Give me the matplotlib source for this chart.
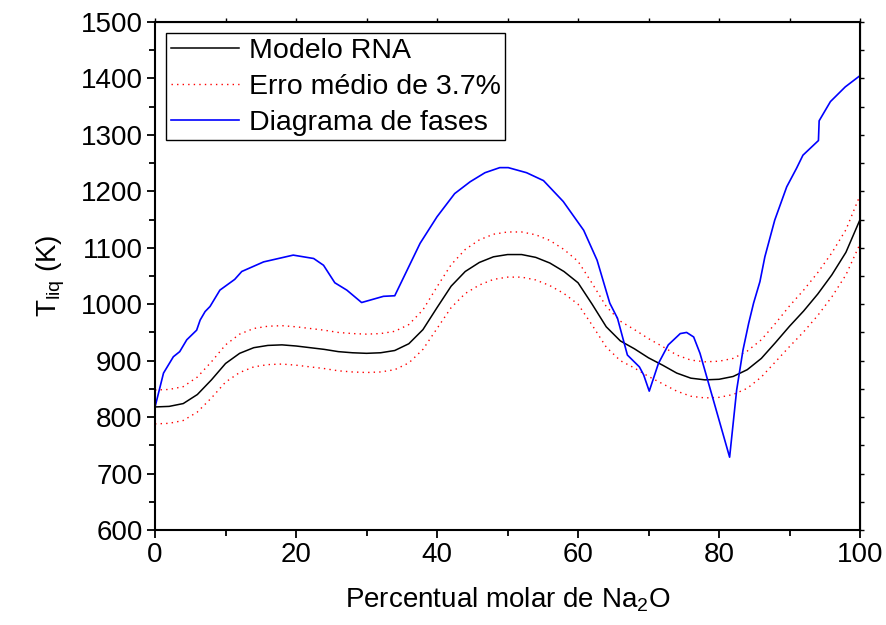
import numpy as np
import matplotlib
matplotlib.use("Agg")
from matplotlib import pyplot as plt
from matplotlib.ticker import MultipleLocator

plt.rcParams['font.family'] = ['Liberation Sans', 'DejaVu Sans']
plt.rcParams['mathtext.fontset'] = 'custom'
plt.rcParams['mathtext.rm'] = 'Liberation Sans'
plt.rcParams['mathtext.it'] = 'Liberation Sans:italic'

# Modelo RNA (linha preta) e banda de erro medio de 3.7% (pontilhado vermelho)
x_rna = [0, 2, 4, 6, 8, 10, 12, 14, 16, 18, 20, 22, 24, 26, 28, 30, 32, 34, 36, 38,
         40, 42, 44, 46, 48, 50, 52, 54, 56, 58, 60, 62, 64, 66, 68, 70, 72, 74, 76, 78,
         80, 82, 84, 86, 88, 90, 92, 94, 96, 98, 100]
t_rna = [818, 819, 824, 840, 866, 895, 913, 923, 927, 928, 926, 923, 920, 916, 914, 913, 914, 918, 930, 955,
         994, 1032, 1058, 1074, 1084, 1088, 1088, 1083, 1073, 1058, 1038, 1000, 960, 935, 921, 905, 892, 878, 869, 866,
         867, 872, 884, 904, 932, 961, 988, 1018, 1052, 1092, 1150]
t_sup = [848, 849, 854, 871, 898, 928, 947, 957, 961, 962, 960, 957, 954, 950, 948, 947, 948, 952, 964, 990,
         1031, 1070, 1097, 1114, 1124, 1128, 1128, 1123, 1113, 1097, 1076, 1037, 996, 970, 955, 939, 925, 910, 901, 898,
         899, 904, 917, 937, 966, 997, 1025, 1056, 1091, 1132, 1193]
t_inf = [788, 789, 794, 809, 834, 862, 879, 889, 893, 894, 892, 889, 886, 882, 880, 879, 880, 884, 896, 920,
         957, 994, 1019, 1034, 1044, 1048, 1048, 1043, 1033, 1019, 1000, 963, 924, 900, 887, 872, 859, 846, 837, 834,
         835, 840, 851, 871, 898, 925, 951, 980, 1013, 1052, 1107]

# Diagrama de fases (linha azul)
x_fases = [0, 1.2, 2.6, 3.5, 4.5, 5.9, 6.4, 7.1, 7.8, 9.2, 11.3, 12.3, 15.4, 19.6, 22.5, 23.9, 25.5, 27.2,
           29.3, 32.4, 34.0, 37.6, 40.0, 42.5, 44.7, 46.8, 48.9, 50.1, 52.7, 55.1, 57.9, 60.8, 62.7, 64.5,
           65.6, 67.0, 68.7, 69.3, 70.1, 71.4, 72.8, 74.5, 75.4, 76.4, 77.3, 79.2, 81.5, 82.5, 83.4, 84.2,
           84.9, 85.8, 86.5, 87.9, 89.6, 91.0, 91.9, 94.1, 94.2, 95.8, 97.9, 100]
t_fases = [818, 878, 907, 916, 937, 954, 972, 987, 996, 1025, 1044, 1058, 1075, 1087, 1081, 1069, 1038, 1025,
           1003, 1014, 1015, 1108, 1155, 1196, 1217, 1233, 1242, 1242, 1233, 1219, 1182, 1131, 1078, 1002,
           975, 910, 889, 875, 846, 895, 928, 948, 950, 942, 913, 830, 729, 848, 919, 966,
           1002, 1040, 1084, 1149, 1208, 1241, 1264, 1290, 1325, 1359, 1385, 1405]

fig = plt.figure(figsize=(8.87, 6.25), dpi=100)
ax = fig.add_axes([0.1748, 0.152, 0.7948, 0.8128])

ax.plot(x_rna, t_rna, color='black', lw=1.1, label='Modelo RNA')
ax.plot(x_rna, t_sup, color='red', lw=1.0, linestyle=(0, (1, 3)), label='Erro médio de 3.7%')
ax.plot(x_rna, t_inf, color='red', lw=1.0, linestyle=(0, (1, 3)))
ax.plot(x_fases, t_fases, color='blue', lw=1.2, label='Diagrama de fases')

ax.set_xlim(0, 100)
ax.set_ylim(600, 1500)
ax.xaxis.set_major_locator(MultipleLocator(20))
ax.xaxis.set_minor_locator(MultipleLocator(10))
ax.yaxis.set_major_locator(MultipleLocator(100))
ax.yaxis.set_minor_locator(MultipleLocator(50))
ax.tick_params(which='major', direction='out', length=6, width=1.3, labelsize=20, pad=3)
ax.tick_params(which='minor', direction='out', length=4, width=1.3)
for s in ax.spines.values():
    s.set_linewidth(1.5)

# eixos opostos com marcas curtas
top = ax.secondary_xaxis('top')
top.xaxis.set_major_locator(MultipleLocator(10))
top.tick_params(direction='out', length=3, width=1, labeltop=False)
right = ax.secondary_yaxis('right')
right.yaxis.set_major_locator(MultipleLocator(50))
right.tick_params(direction='out', length=3, width=1, labelright=False)

ax.set_xlabel('Percentual molar de Na$_2$O', fontsize=20, labelpad=12)
ax.set_ylabel('T$_{\\mathrm{liq}}$ (K)', fontsize=20, labelpad=10)

leg = ax.legend(loc='upper left', fontsize=20.5, frameon=True, fancybox=False,
                edgecolor='black', framealpha=1, handlelength=2.4, handletextpad=0.35,
                labelspacing=0.36, borderpad=0.15, borderaxespad=0.4)
leg.get_frame().set_linewidth(1.0)

plt.savefig('out.png', dpi=100)
